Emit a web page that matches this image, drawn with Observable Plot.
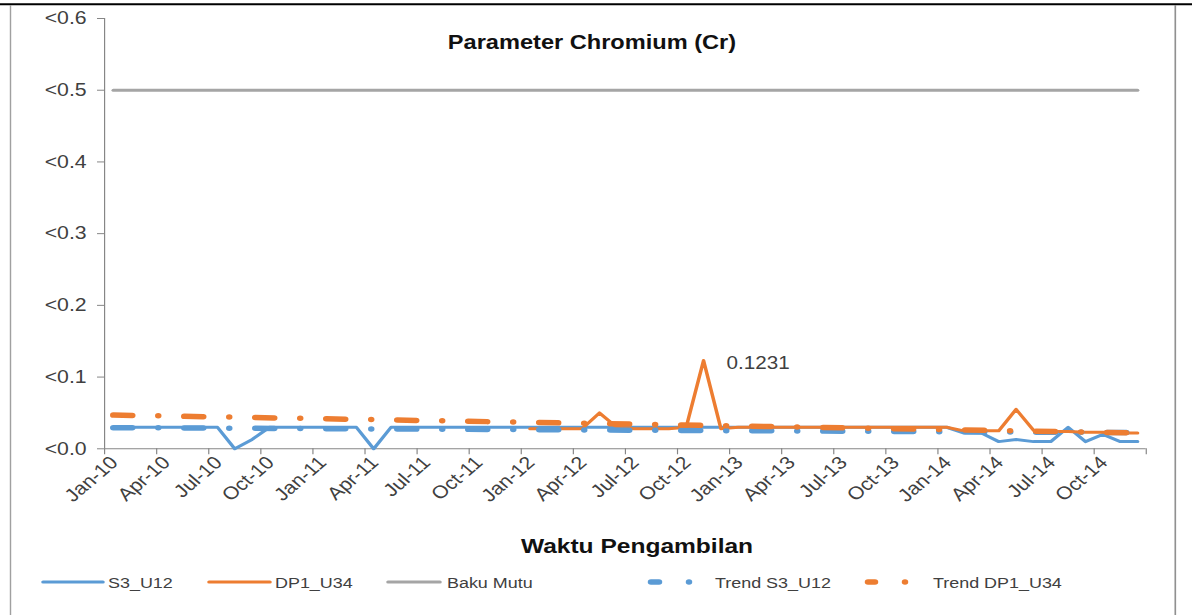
<!DOCTYPE html>
<html>
<head>
<meta charset="utf-8">
<script src="https://cdn.jsdelivr.net/npm/d3@7"></script>
<script src="https://cdn.jsdelivr.net/npm/@observablehq/plot@0.6"></script>
<style>
  html, body { margin: 0; padding: 0; background: #fff; }
  body { width: 1192px; height: 615px; overflow: hidden; position: relative; }
  #stage { position: absolute; left: 0; top: 0; height: 615px; transform-origin: 0 0; }
  #stage svg { position: absolute; left: 0; top: 0; overflow: visible; }
  [aria-label="x-axis"] line, [aria-label="y-axis"] line,
  [aria-label="x-axis tick"], [aria-label="y-axis tick"] { stroke: #868686; }
</style>
</head>
<body>
<div id="stage"></div>
<script>
// ---------------- data ----------------
const months = [
  "Jan-10","Feb-10","Mar-10","Apr-10","May-10","Jun-10","Jul-10","Aug-10","Sep-10","Oct-10","Nov-10","Dec-10",
  "Jan-11","Feb-11","Mar-11","Apr-11","May-11","Jun-11","Jul-11","Aug-11","Sep-11","Oct-11","Nov-11","Dec-11",
  "Jan-12","Feb-12","Mar-12","Apr-12","May-12","Jun-12","Jul-12","Aug-12","Sep-12","Oct-12","Nov-12","Dec-12",
  "Jan-13","Feb-13","Mar-13","Apr-13","May-13","Jun-13","Jul-13","Aug-13","Sep-13","Oct-13","Nov-13","Dec-13",
  "Jan-14","Feb-14","Mar-14","Apr-14","May-14","Jun-14","Jul-14","Aug-14","Sep-14","Oct-14","Nov-14","Dec-14"
];
const tickLabels = ["Jan-10","Apr-10","Jul-10","Oct-10","Jan-11","Apr-11","Jul-11","Oct-11","Jan-12","Apr-12",
  "Jul-12","Oct-12","Jan-13","Apr-13","Jul-13","Oct-13","Jan-14","Apr-14","Jul-14","Oct-14"];
const S3_U12 = [
  0.03,0.03,0.03,0.03,0.03,0.03,0.03,0.0,0.013,0.03,0.03,0.03,
  0.03,0.03,0.03,0.0,0.03,0.03,0.03,0.03,0.03,0.03,0.03,0.03,
  0.03,0.03,0.03,0.03,0.03,0.03,0.03,0.03,0.03,0.03,0.03,0.03,
  0.03,0.03,0.03,0.03,0.03,0.03,0.03,0.03,0.03,0.03,0.03,0.03,
  0.03,0.022,0.022,0.01,0.013,0.01,0.01,0.03,0.01,0.02,0.01,0.01
];
const DP1_U34 = [
  null,null,null,null,null,null,null,null,null,null,null,null,
  null,null,null,null,null,null,null,null,null,null,null,null,
  0.028,0.028,0.028,0.028,0.05,0.03,0.028,0.028,0.028,0.03,0.1231,0.028,
  0.03,0.03,0.03,0.03,0.03,0.03,0.03,0.03,0.03,0.03,0.03,0.03,
  0.03,0.025,0.025,0.025,0.055,0.026,0.024,0.024,0.023,0.023,0.022,0.022
];
const bakuMutu = 0.5;
const trendS3_U12 = [0.0295, 0.0225];   // value at first and last month
const trendDP1_U34 = [0.047, 0.022];    // value at first and last month
const yTicks = [0, 0.1, 0.2, 0.3, 0.4, 0.5, 0.6];
const peakLabel = {month: "Nov-12", value: 0.1231};
const seriesNames = ["S3_U12", "DP1_U34", "Baku Mutu", "Trend S3_U12", "Trend DP1_U34"];
const colors = {blue: "#5B9BD5", orange: "#ED7D31", gray: "#A5A5A5"};
const titleText = "Parameter Chromium (Cr)";
const xTitle = "Waktu Pengambilan";

// ---------------- layout ----------------
const S = 1.18;               // horizontal stretch of the reference image
const W0 = 1192 / S;
const H = 520;
const FONT = '"Liberation Sans", Arial, sans-serif';
const TXT = "#404040";
const stage = document.getElementById("stage");
stage.style.width = W0 + "px";
stage.style.transform = `scaleX(${S})`;

const idx = months.map((m, i) => i);
const rows = idx.map(i => ({i, s3: S3_U12[i], dp1: DP1_U34[i], baku: bakuMutu}));
const boundaries = d3.range(0, months.length + 1, 3).map(v => v - 0.5);
const labelIdx = tickLabels.map(t => months.indexOf(t));
const last = months.length - 1;
const trendRows = (vals) => [{i: 0, v: vals[0]}, {i: last, v: vals[1]}];
const dash = `${19 / S},${26 / S},0,${26 / S}`;

const chart = Plot.plot({
  width: W0,
  height: H,
  marginLeft: 104 / S,
  marginRight: W0 - 1145.7 / S,
  marginTop: 18,
  marginBottom: H - 448.3,
  style: {fontFamily: FONT, fontSize: "18px", color: TXT, background: "transparent", overflow: "visible"},
  x: {domain: [-0.5, months.length - 0.5], ticks: boundaries, tickFormat: () => "", tickSize: 6, label: null},
  y: {domain: [0, 0.6], ticks: yTicks, tickFormat: d => "<" + d.toFixed(1), tickSize: 7 / S, tickPadding: 11 / S, label: null},
  marks: [
    Plot.ruleY([0], {stroke: "#868686", strokeWidth: 1}),
    Plot.ruleX([-0.5], {stroke: "#868686", strokeWidth: 1}),
    Plot.text(labelIdx, {x: d => d, text: d => months[d], frameAnchor: "bottom", rotate: -45, textAnchor: "end",
      dx: 5, dy: 15, fontSize: 18, fill: TXT}),
    Plot.line(rows, {x: "i", y: "s3", stroke: colors.blue, strokeWidth: 3, strokeLinejoin: "round"}),
    Plot.line(rows, {x: "i", y: "dp1", stroke: colors.orange, strokeWidth: 3, strokeLinejoin: "round"}),
    Plot.line(rows, {x: "i", y: "baku", stroke: colors.gray, strokeWidth: 3}),
    Plot.line(trendRows(trendS3_U12), {x: "i", y: "v", stroke: colors.blue, strokeWidth: 5.5,
      strokeDasharray: dash, strokeLinecap: "round"}),
    Plot.line(trendRows(trendDP1_U34), {x: "i", y: "v", stroke: colors.orange, strokeWidth: 5.5,
      strokeDasharray: dash, strokeLinecap: "round"}),
    Plot.text([peakLabel], {x: d => months.indexOf(d.month), y: "value", text: d => String(d.value),
      textAnchor: "start", dx: 23 / S, dy: 3, fontSize: 17.5, fill: TXT})
  ]
});
stage.appendChild(chart);

// ---------------- overlay: frame, titles, legend ----------------
const ov = d3.select(stage).append("svg")
  .attr("width", W0).attr("height", 615)
  .style("font-family", FONT);

ov.append("line").attr("x1", 0).attr("x2", W0).attr("y1", 4.3).attr("y2", 4.3)
  .attr("stroke", "#000").attr("stroke-width", 2);
ov.append("line").attr("x1", 10.5 / S).attr("x2", 10.5 / S).attr("y1", 5).attr("y2", 615)
  .attr("stroke", "#a0a0a0").attr("stroke-width", 1.2);
ov.append("line").attr("x1", 1175.3 / S).attr("x2", 1175.3 / S).attr("y1", 5).attr("y2", 615)
  .attr("stroke", "#909090").attr("stroke-width", 1.4);

ov.append("text").attr("x", 592 / S).attr("y", 49).attr("text-anchor", "middle")
  .attr("font-weight", "bold").attr("font-size", 20).attr("fill", "#111").text(titleText);
ov.append("text").attr("x", 637 / S).attr("y", 553).attr("text-anchor", "middle")
  .attr("font-weight", "bold").attr("font-size", 20.8).attr("fill", "#111").text(xTitle);

const ly = 582;
const legend = [
  {name: seriesNames[0], color: colors.blue, kind: "line", x0: 43, x1: 103, tx: 108},
  {name: seriesNames[1], color: colors.orange, kind: "line", x0: 209, x1: 270, tx: 275},
  {name: seriesNames[2], color: colors.gray, kind: "line", x0: 388, x1: 440, tx: 447},
  {name: seriesNames[3], color: colors.blue, kind: "trend", x0: 651, x1: 659, dot: 689, tx: 715},
  {name: seriesNames[4], color: colors.orange, kind: "trend", x0: 868, x1: 875, dot: 905, tx: 933}
];
for (const it of legend) {
  if (it.kind === "line") {
    ov.append("line").attr("x1", it.x0 / S).attr("x2", it.x1 / S).attr("y1", ly).attr("y2", ly)
      .attr("stroke", it.color).attr("stroke-width", 3).attr("stroke-linecap", "round");
  } else {
    ov.append("line").attr("x1", it.x0 / S).attr("x2", it.x1 / S).attr("y1", ly).attr("y2", ly)
      .attr("stroke", it.color).attr("stroke-width", 5.5).attr("stroke-linecap", "round");
    ov.append("line").attr("x1", it.dot / S).attr("x2", it.dot / S).attr("y1", ly).attr("y2", ly)
      .attr("stroke", it.color).attr("stroke-width", 5.5).attr("stroke-linecap", "round");
  }
  ov.append("text").attr("x", it.tx / S).attr("y", ly + 6.5).attr("font-size", 15.2)
    .attr("fill", TXT).text(it.name);
}
</script>
</body>
</html>
